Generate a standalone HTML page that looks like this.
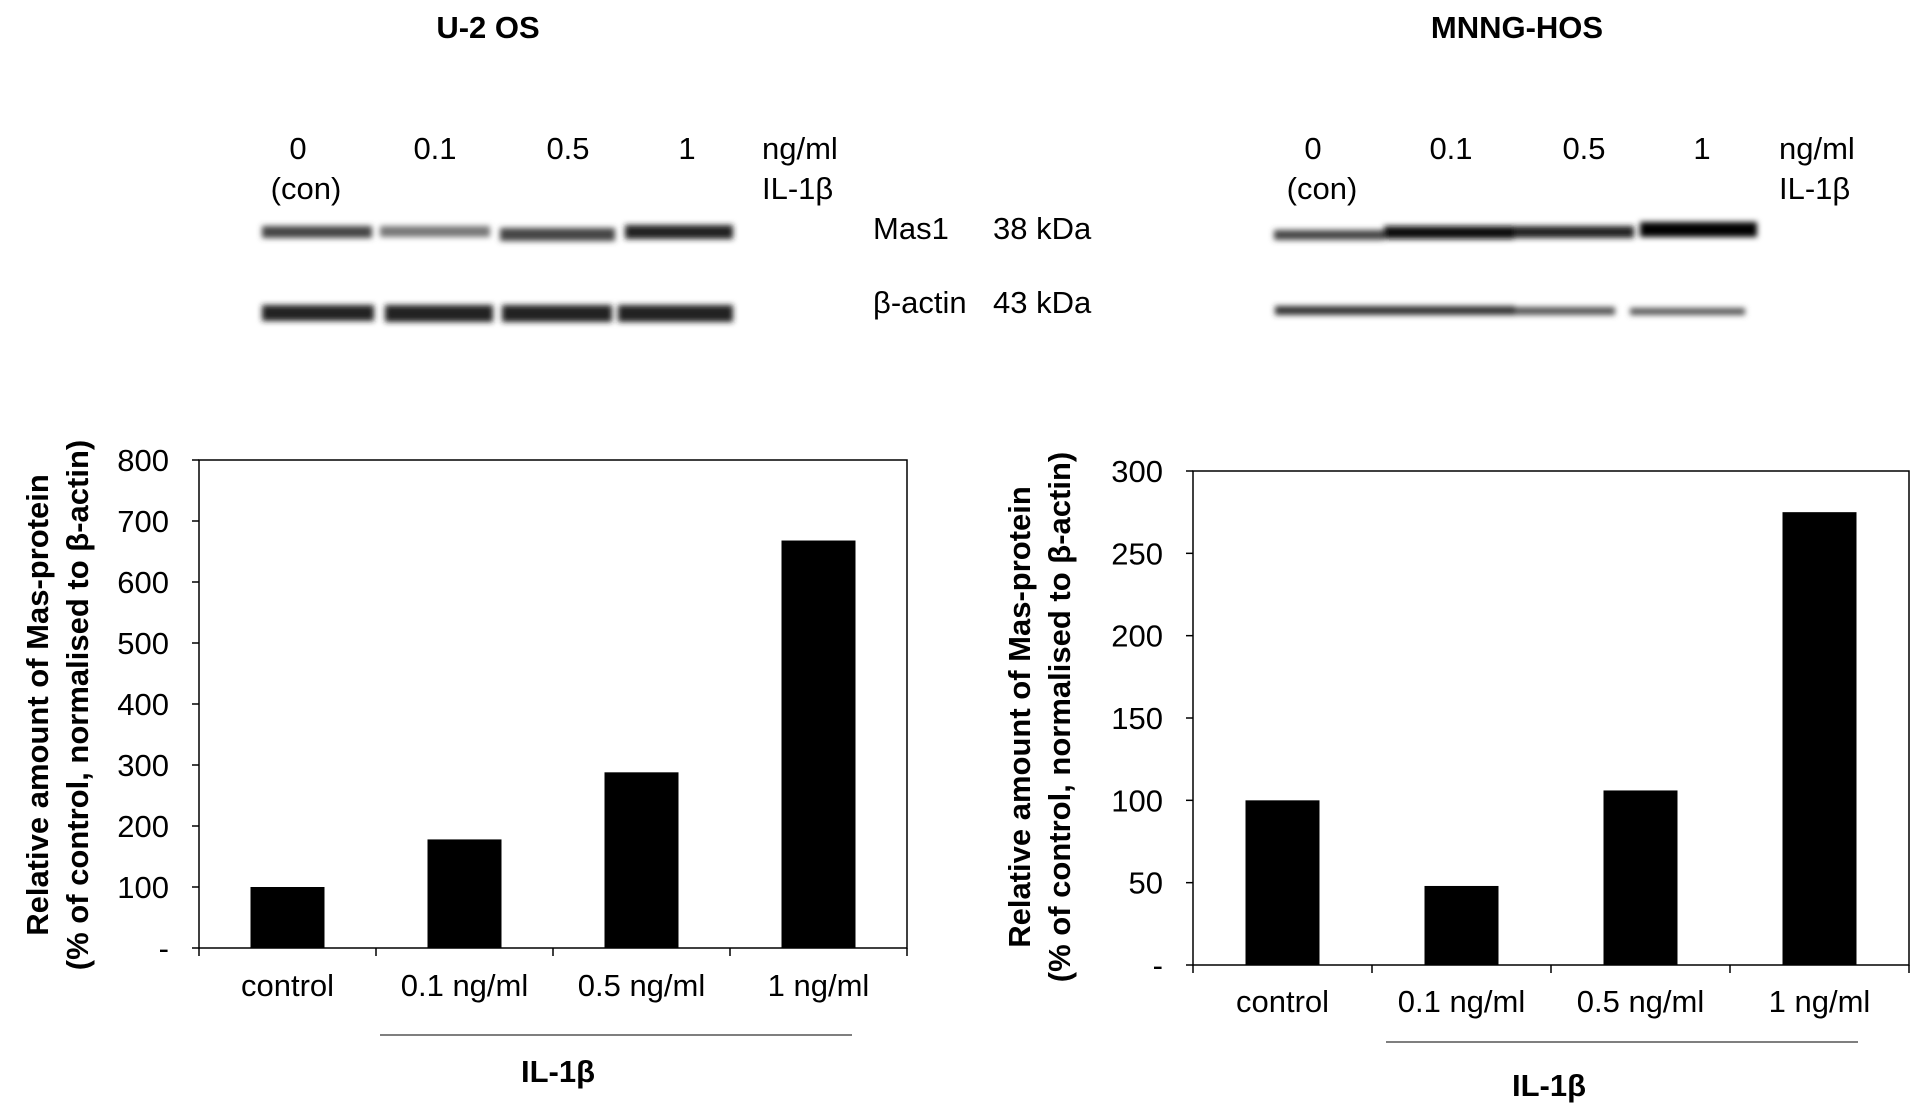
<!DOCTYPE html>
<html><head><meta charset="utf-8"><style>
body{margin:0;background:#fff;}
svg{display:block;font-family:"Liberation Sans",sans-serif;}
</style></head><body>
<svg id="fig" width="1913" height="1117" viewBox="0 0 1913 1117">
<defs>
<filter id="blur" x="-5%" y="-50%" width="110%" height="200%"><feGaussianBlur stdDeviation="3"/></filter>
</defs>
<g>
<text x="488" y="38" font-size="31" font-weight="bold" text-anchor="middle">U-2 OS</text>
<g font-size="31" text-anchor="middle">
<text x="298" y="159">0</text>
<text x="306" y="199">(con)</text>
<text x="435" y="159">0.1</text>
<text x="568" y="159">0.5</text>
<text x="687" y="159">1</text>
</g>
<text x="762" y="159" font-size="31">ng/ml</text>
<text x="762" y="199" font-size="31">IL-1β</text>
<text x="873" y="239" font-size="31">Mas1</text>
<text x="993" y="239" font-size="31">38 kDa</text>
<text x="873" y="313" font-size="31">β-actin</text>
<text x="993" y="313" font-size="31">43 kDa</text>
<g filter="url(#blur)">
<rect x="262" y="226" width="110" height="12" fill="#444"/>
<rect x="380" y="226" width="110" height="11" fill="#777"/>
<rect x="500" y="228" width="115" height="13" fill="#444"/>
<rect x="625" y="225" width="108" height="14" fill="#222"/>
<rect x="262" y="305" width="112" height="16" fill="#222"/>
<rect x="385" y="305" width="108" height="17" fill="#222"/>
<rect x="502" y="305" width="110" height="17" fill="#222"/>
<rect x="618" y="305" width="115" height="17" fill="#222"/>
</g>
</g>
<g>
<text x="1517" y="38" font-size="31" font-weight="bold" text-anchor="middle">MNNG-HOS</text>
<g font-size="31" text-anchor="middle">
<text x="1313" y="159">0</text>
<text x="1322" y="199">(con)</text>
<text x="1451" y="159">0.1</text>
<text x="1584" y="159">0.5</text>
<text x="1702" y="159">1</text>
</g>
<text x="1779" y="159" font-size="31">ng/ml</text>
<text x="1779" y="199" font-size="31">IL-1β</text>
<g filter="url(#blur)">
<rect x="1274" y="230" width="110" height="10" fill="#444"/>
<rect x="1384" y="226" width="130" height="13" fill="#111"/>
<rect x="1514" y="226" width="120" height="12" fill="#222"/>
<rect x="1640" y="222" width="117" height="15" fill="#000"/>
<rect x="1275" y="306" width="240" height="9" fill="#333"/>
<rect x="1515" y="307" width="100" height="8" fill="#555"/>
<rect x="1630" y="308" width="115" height="7" fill="#555"/>
</g>
</g>
<g id="chartL"></g>
<g id="chartR"></g>
</svg>
<script>
const categories = ["control","0.1 ng/ml","0.5 ng/ml","1 ng/ml"];
const valuesU2OS = [100,178,288,668];
const valuesMNNG = [100,48,106,275];
const ticksU2OS = [0,100,200,300,400,500,600,700,800];
const ticksMNNG = [0,50,100,150,200,250,300];
const NS="http://www.w3.org/2000/svg";
function mk(parent,tag,attrs,text){const e=document.createElementNS(NS,tag);for(const k in attrs)e.setAttribute(k,attrs[k]);if(text!==undefined)e.textContent=text;parent.appendChild(e);return e;}
function drawChart(g,cfg,vals,ticks){
  const {l,r,t,b,max,labY,lineY,lineX1,lineX2,ilX,ilY,titleX,titleY}=cfg;
  const y=v=>b-(v/max)*(b-t);
  const slot=(r-l)/categories.length;
  const bw=74;
  const frame=mk(g,'rect',{x:l,y:t,width:r-l,height:b-t,fill:'none',stroke:'#000','stroke-width':1.5});
  
  
  ticks.forEach(v=>{
    const tk=mk(g,'line',{x1:l-7,x2:l,y1:y(v),y2:y(v),stroke:'#000','stroke-width':1.5});
    
    
    const tl=mk(g,'text',{x:l-30,y:y(v)+11,'font-size':31,'text-anchor':'end'},v===0?'-':String(v));
    
    
  });
  for(let i=0;i<=categories.length;i++){
    const tk=mk(g,'line',{x1:l+i*slot,x2:l+i*slot,y1:b,y2:b+8,stroke:'#000','stroke-width':1.5});
    
    
  }
  categories.forEach((c,i)=>{
    const cx=l+slot*(i+0.5);
    const bar=mk(g,'rect',{x:cx-bw/2,y:y(vals[i]),width:bw,height:b-y(vals[i]),fill:'#000'});
    
    
    const lab=mk(g,'text',{x:cx,y:labY,'font-size':31,'text-anchor':'middle'},c);
    
    
  });
  const ln=mk(g,'line',{x1:lineX1,x2:lineX2,y1:lineY,y2:lineY,stroke:'#555','stroke-width':1.5});
  
  
  const il=mk(g,'text',{x:ilX,y:ilY,'font-size':31,'font-weight':'bold','text-anchor':'middle'},'IL-1β');
  
  
  const yt=mk(g,'text',{transform:`translate(${titleX},${titleY}) rotate(-90)`,'font-size':31,'font-weight':'bold','text-anchor':'middle'});
  
  
  mk(yt,'tspan',{x:0,y:0},'Relative amount of Mas-protein');
  mk(yt,'tspan',{x:0,y:40},'(% of control, normalised to β-actin)');
}
drawChart(document.getElementById('chartL'),{l:199,r:907,t:460,b:948,max:800,labY:996,lineY:1035,lineX1:380,lineX2:852,ilX:558,ilY:1082,titleX:48,titleY:705},valuesU2OS,ticksU2OS);
drawChart(document.getElementById('chartR'),{l:1193,r:1909,t:471,b:965,max:300,labY:1012,lineY:1042,lineX1:1386,lineX2:1858,ilX:1549,ilY:1096,titleX:1030,titleY:717},valuesMNNG,ticksMNNG);
</script>
</body></html>
